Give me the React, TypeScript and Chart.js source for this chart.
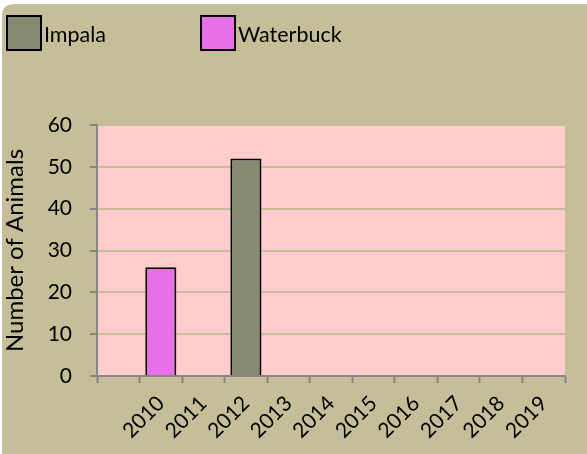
import React, { useEffect, useRef } from "react";
import { Chart, registerables } from "chart.js";

Chart.register(...registerables);

const categories = ["", "2010", "2011", "2012", "2013", "2014", "2015", "2016", "2017", "2018", "2019"];
const impala = [null, null, null, 52, null, null, null, null, null, null, null];
const waterbuck = [null, 26, null, null, null, null, null, null, null, null, null];
const yTicks = [0, 10, 20, 30, 40, 50, 60];

const FONT = "Lato, 'DejaVu Sans', sans-serif";
const TAN = "#C6BE98";
const PINK = "#FFCCCC";
const AXIS = "#868686";

const bgPlugin = {
  id: "bg",
  beforeDraw(chart: any) {
    const { ctx, width, height, chartArea } = chart;
    ctx.save();
    ctx.fillStyle = "#ffffff";
    ctx.fillRect(0, 0, width, height);
    ctx.fillStyle = TAN;
    ctx.beginPath();
    const x0 = 2, y0 = 4, r = 12;
    ctx.moveTo(x0 + r, y0);
    ctx.lineTo(width, y0);
    ctx.lineTo(width, height);
    ctx.lineTo(x0, height);
    ctx.lineTo(x0, y0 + r);
    ctx.quadraticCurveTo(x0, y0, x0 + r, y0);
    ctx.closePath();
    ctx.fill();
    ctx.fillStyle = PINK;
    ctx.fillRect(chartArea.left, chartArea.top, chartArea.right - chartArea.left, chartArea.bottom - chartArea.top);
    ctx.restore();
  },
};

const legendPlugin = {
  id: "customLegend",
  afterDraw(chart: any) {
    const { ctx } = chart;
    const xs = [7, 201];
    ctx.save();
    chart.data.datasets.forEach((ds: any, i: number) => {
      const x = xs[i];
      const y = 16;
      ctx.fillStyle = ds.backgroundColor;
      ctx.fillRect(x, y, 34, 34);
      ctx.strokeStyle = "#000";
      ctx.lineWidth = 2;
      ctx.strokeRect(x, y, 34, 34);
      ctx.fillStyle = "#000";
      ctx.font = `21.5px ${FONT}`;
      ctx.textBaseline = "middle";
      ctx.textAlign = "left";
      ctx.fillText(ds.label, x + 37, y + 19);
    });
    ctx.restore();
  },
};

export default function App() {
  const ref = useRef<HTMLCanvasElement | null>(null);
  useEffect(() => {
    document.body.style.margin = "0";
    const chart = new Chart(ref.current as HTMLCanvasElement, {
      type: "bar",
      data: {
        labels: categories,
        datasets: [
          {
            label: "Impala",
            data: impala,
            backgroundColor: "#878A72",
            borderColor: "#000",
            borderWidth: 2,
            grouped: false,
          } as any,
          {
            label: "Waterbuck",
            data: waterbuck,
            backgroundColor: "#E870E8",
            borderColor: "#000",
            borderWidth: 2,
            grouped: false,
          } as any,
        ],
      },
      options: {
        animation: false,
        responsive: false,
        maintainAspectRatio: false,
        layout: { padding: { top: 125, right: 22, left: 0, bottom: 0 } },
        plugins: { legend: { display: false }, tooltip: { enabled: false } },
        datasets: { bar: { categoryPercentage: 1, barPercentage: 0.73 } } as any,
        scales: {
          x: {
            offset: true,
            grid: {
              offset: true,
              drawOnChartArea: false,
              drawTicks: true,
              tickLength: 7,
              tickColor: AXIS,
              tickWidth: 2,
            },
            border: { color: AXIS, width: 2 },
            ticks: {
              minRotation: 45,
              maxRotation: 45,
              autoSkip: false,
              padding: 8,
              color: "#000",
              font: { family: FONT, size: 21 },
            },
            afterFit(scale: any) {
              scale.height = 78;
            },
          },
          y: {
            min: 0,
            max: 60,
            afterBuildTicks(scale: any) {
              scale.ticks = yTicks.map((v) => ({ value: v }));
            },
            grid: {
              color: (c: any) => (c.tick && c.tick.value === 0 ? AXIS : "#C8BE96"),
              lineWidth: 2,
              tickLength: 7,
              tickColor: AXIS,
              tickWidth: 2,
            },
            border: { color: AXIS, width: 2 },
            ticks: {
              padding: 18,
              color: "#000",
              font: { family: FONT, size: 21 },
            },
            title: {
              display: true,
              text: "Number of Animals",
              color: "#000",
              font: { family: FONT, size: 24 },
              padding: { top: 1, bottom: 0 },
            },
            afterFit(scale: any) {
              scale.width = 97;
            },
          },
        },
      },
      plugins: [bgPlugin, legendPlugin],
    });
    return () => chart.destroy();
  }, []);
  return <canvas ref={ref} width={587} height={454} style={{ display: "block" }} />;
}
